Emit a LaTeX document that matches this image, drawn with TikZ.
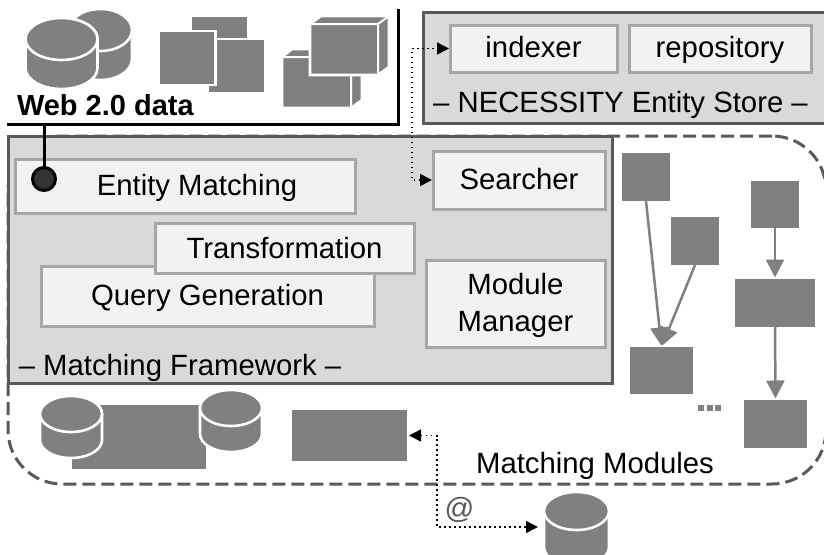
\documentclass[tikz,border=0pt]{standalone}
\usepackage{fontspec}
\setmainfont{Liberation Sans}
\usetikzlibrary{arrows.meta}
\definecolor{gfill}{HTML}{808080}
\definecolor{panel}{HTML}{D9D9D9}
\definecolor{panelline}{HTML}{595959}
\definecolor{boxfill}{HTML}{F2F2F2}
\definecolor{boxline}{HTML}{A6A6A6}
\tikzset{
  every node/.style={inner sep=0pt,outer sep=0pt,font=\fontsize{29.3}{37}\selectfont},
  panelbox/.style={draw=panelline,fill=panel,line width=3pt},
  softbox/.style={draw=boxline,fill=boxfill,line width=3pt,text depth=6pt},
  solid gray/.style={fill=gfill},
  graybox/.style={fill=gfill,draw=white,line width=1pt},
  outlined/.style={fill=gfill,draw=white,line width=2.6pt},
  dashframe/.style={draw=panelline,line width=3pt,dash pattern=on 13pt off 6pt,rounded corners=54pt},
  flow/.style={draw=gfill,line width=2.5pt,-{Triangle[length=18pt,width=18pt]}},
  dotflow/.style={draw=black,line width=1.5pt,dash pattern=on 1.5pt off 3.5pt},
}
% name, centre x, top y, bottom y, half width, ellipse half height
\newcommand{\dbshape}[6]{%
  \pgfmathsetmacro{\dbL}{#2-#5}\pgfmathsetmacro{\dbR}{#2+#5}%
  \pgfmathsetmacro{\dbT}{#3+#6}\pgfmathsetmacro{\dbB}{#4-#6}%
  \path[outlined] (\dbL,\dbT) -- (\dbL,\dbB) arc[start angle=180,end angle=360,x radius=#5pt,y radius=#6pt]
     -- (\dbR,\dbT) arc[start angle=0,end angle=180,x radius=#5pt,y radius=#6pt] -- cycle;
  \path[outlined] (#2,\dbT) ellipse[x radius=#5pt,y radius=#6pt];
  \node[minimum width=2*#5pt,minimum height=#4pt-#3pt] (#1) at (#2,{(#3+#4)/2}) {};
}
\begin{document}
\begin{tikzpicture}[x=1pt,y=-1pt]
\useasboundingbox (0,0) rectangle (824,554);
% Matching Modules frame
\node[dashframe,minimum width=818pt,minimum height=348pt] (modules) at (417,310) {};
% Web 2.0 data
\coordinate (webstart) at (8,124);
\coordinate (webtop) at (398,10);
\coordinate (webfoot) at (44,124);
\draw[line width=3pt,line cap=rect] (webstart) -| (webtop);
\dbshape{dba}{100.5}{9}{80}{31.5}{21}
\dbshape{dbb}{61.5}{18}{89}{36}{21}
\node[graybox,minimum width=56pt,minimum height=22pt] (sqa) at (219.5,27) {};
\node[fill=gfill,draw=white,line width=2.6pt,minimum width=57pt,minimum height=54pt] (sqb) at (236.5,66) {};
\node[fill=gfill,draw=white,line width=2.6pt,minimum width=57pt,minimum height=54pt] (sqc) at (187,58) {};
\path[outlined] (282,57) -- (292,49) -- (362,49) -- (362,100) -- (351,108) -- (282,108) -- cycle;
\draw[white,line width=2pt] (282,57) -- (351,57) -- (351,108) (351,57) -- (362,49);
\path[outlined] (310,24) -- (321,16) -- (389,16) -- (389,67) -- (378,75) -- (310,75) -- cycle;
\draw[white,line width=2pt] (310,24) -- (378,24) -- (378,75) (378,24) -- (389,16);
\node[anchor=base west,font=\fontsize{29}{33}\selectfont\bfseries] (weblabel) at (17,115) {Web 2.0 data};
% Entity store
\node[panelbox,minimum width=403pt,minimum height=111pt] (store) at (624.5,68) {};
\node[softbox,text height=23pt,minimum width=167pt,minimum height=47pt] (indexer) at (533.5,48.5) {indexer};
\node[softbox,text height=23pt,minimum width=182pt,minimum height=47pt] (repository) at (720,48.5) {repository};
\node[anchor=base] (storelabel) at (620.5,112) {– NECESSITY Entity Store –};
% Matching framework
\node[panelbox,minimum width=604pt,minimum height=247pt] (framework) at (310.5,260) {};
\node[softbox,text height=23pt,minimum width=340pt,minimum height=54pt] (entity) at (185,186.5) {\hspace*{24pt}Entity Matching};
\node[softbox,text height=24pt,minimum width=172pt,minimum height=58pt] (searcher) at (519,180) {Searcher};
\node[softbox,text height=24pt,minimum width=333pt,minimum height=60pt] (query) at (207.5,296) {Query Generation};
\node[softbox,text height=26pt,minimum width=259pt,minimum height=50pt] (transform) at (284.5,248) {Transformation};
\node[draw=boxline,fill=boxfill,line width=3pt,minimum width=179pt,minimum height=87pt,align=center] (manager) at (515.5,303.5) {\rule{0pt}{25pt}Module\\Manager};
\node[anchor=base] (frameworklabel) at (180,375) {– Matching Framework –};
\node[circle,draw=black,fill=black!80,line width=3pt,minimum size=23pt] (joint) at (44,179) {};
\draw[line width=3pt] (webfoot) -- (joint);
% Module blocks
\node[solid gray,minimum width=48pt,minimum height=48pt] (ma) at (646,177) {};
\node[solid gray,minimum width=48pt,minimum height=48pt] (mb) at (695,241) {};
\node[solid gray,minimum width=63pt,minimum height=47pt] (mc) at (661.5,370.5) {};
\node[solid gray,minimum width=48pt,minimum height=47pt] (md) at (775,204.5) {};
\node[solid gray,minimum width=80pt,minimum height=48pt] (me) at (775,303) {};
\node[solid gray,minimum width=63pt,minimum height=48pt] (mf) at (775.5,424) {};
\draw[flow,shorten >=1.5pt] (ma.south) -- (mc.north);
\draw[flow,shorten >=1.5pt] (mb.south) -- (mc.north);
\draw[flow,shorten >=1.5pt] (md.south) -- (me.north);
\draw[flow,shorten >=1.5pt] (me.south) -- (mf.north);
\node[solid gray,minimum size=6pt] (da) at (701,408) {};
\node[solid gray,minimum size=6pt] (db) at (709.5,408) {};
\node[solid gray,minimum size=6pt] (dc) at (718,408) {};
% Bottom group
\node[solid gray,minimum width=134pt,minimum height=64pt] (bigblock) at (139,437) {};
\dbshape{dbc}{71}{396}{458}{31}{18}
\dbshape{dbd}{231}{390}{452}{31}{18}
\node[solid gray,minimum width=115pt,minimum height=51pt] (sideblock) at (349.5,435.5) {};
\dbshape{dbe}{576.5}{492}{566}{32.5}{19}
\node[anchor=base] (moduleslabel) at (595,473) {Matching Modules};
\node[text=black!65] (atlabel) at (459.5,510) {@};
% Dotted connectors
\draw[dotflow,{Triangle[length=12pt,width=12pt,fill=black]}-{Triangle[length=12pt,width=12pt,fill=black]},shorten <=1pt,shorten >=1pt] (searcher.west) -- ++(-21,0) |- (indexer.west);
\draw[dotflow,{Triangle[length=12pt,width=12pt,fill=black]}-{Triangle[length=12pt,width=12pt,fill=black]},shorten <=2pt,shorten >=6pt] (sideblock.east) -- ++(30,0) |- (dbe.west |- 0,527);
\end{tikzpicture}
\end{document}
